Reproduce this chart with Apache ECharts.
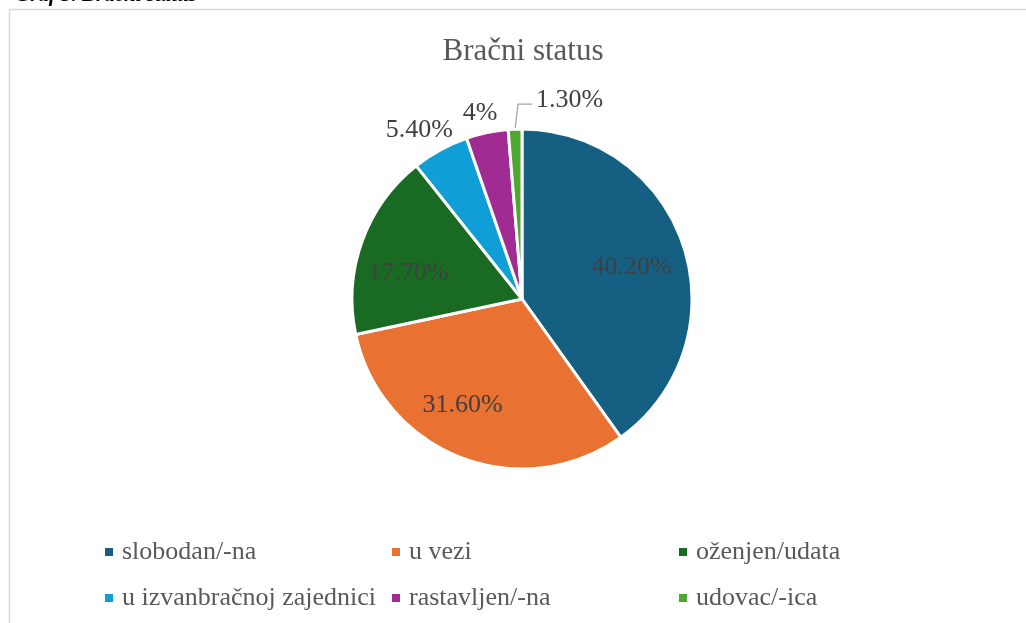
<!DOCTYPE html>
<html>
<head>
<meta charset="utf-8">
<script src="https://cdn.jsdelivr.net/npm/echarts@6/dist/echarts.min.js"></script>
<style>
html,body{margin:0;padding:0;background:#fff;}
#chart{width:1026px;height:623px;}
</style>
</head>
<body>
<div id="chart"></div>
<script>
const categories = ['slobodan/-na', 'u vezi', 'oženjen/udata', 'u izvanbračnoj zajednici', 'rastavljen/-na', 'udovac/-ica'];
const values = [40.2, 31.6, 17.7, 5.4, 4, 1.3];
const valueLabels = ['40.20%', '31.60%', '17.70%', '5.40%', '4%', '1.30%'];
const colors = ['#156082', '#E97132', '#196B24', '#0F9ED5', '#A02B93', '#4EA72E'];
const titleText = 'Bračni status';
const captionText = 'Graf 5. Bračni status';

const FONT = "'Liberation Serif', 'Times New Roman', serif";
const CX = 522, CY = 299, R = 170;

const chart = echarts.init(document.getElementById('chart'), null, {renderer: 'canvas'});

function midAngle(i) {
  const total = values.reduce((a, b) => a + b, 0);
  let before = 0;
  for (let k = 0; k < i; k++) before += values[k];
  return -Math.PI / 2 + (before + values[i] / 2) / total * 2 * Math.PI;
}

const data = categories.map((c, i) => ({
  name: c,
  value: values[i],
  itemStyle: {color: colors[i]},
  label: {position: i < 3 ? 'inside' : 'outside'},
  labelLine: {show: i === 5, length: 10, length2: 10, lineStyle: {color: '#a6a6a6', width: 1.3}}
}));

function legendRow(names, top) {
  return {
    left: 103,
    top: top,
    width: 880,
    padding: 0,
    itemWidth: 10,
    itemHeight: 10,
    itemGap: 13,
    icon: 'rect',
    data: names,
    formatter: '{a|{name}}',
    textStyle: {
      fontFamily: FONT, fontSize: 26, color: '#595959',
      rich: {a: {fontFamily: FONT, fontSize: 26, color: '#595959', width: 255, lineHeight: 38, padding: [0, 0, 0, 3]}}
    }
  };
}

chart.setOption({
  animation: false,
  backgroundColor: '#fff',
  title: {
    text: titleText,
    left: 518,
    top: 31,
    textAlign: 'center',
    textStyle: {fontFamily: FONT, fontSize: 31, fontWeight: 'normal', color: '#595959'}
  },
  legend: [legendRow(categories.slice(0, 3), 539), legendRow(categories.slice(3), 585)],
  graphic: [
    {type: 'line', shape: {x1: 10, y1: 9.5, x2: 1026, y2: 9.5}, style: {stroke: '#d9d9d9', lineWidth: 1.5}, silent: true},
    {type: 'line', shape: {x1: 9.5, y1: 9, x2: 9.5, y2: 623}, style: {stroke: '#d9d9d9', lineWidth: 1.5}, silent: true},
    {type: 'text', left: 15, top: -14.5, style: {text: captionText, font: "bold italic 21px 'Liberation Serif', serif", fill: '#000'}, silent: true}
  ],
  series: [{
    type: 'pie',
    center: [CX, CY],
    radius: R,
    startAngle: 90,
    clockwise: true,
    avoidLabelOverlap: false,
    itemStyle: {borderColor: '#fff', borderWidth: 3},
    label: {
      show: true,
      fontFamily: FONT,
      fontSize: 26,
      color: '#404040',
      formatter: p => valueLabels[p.dataIndex]
    },
    emphasis: {disabled: true},
    labelLayout: function (p) {
      const nudge = [[-2, 4], [-17, -3], [-3, 14], [-7, 6], [-1, 9], [0, 0]];
      const i = p.dataIndex;
      const a = midAngle(i);
      const c = Math.cos(a), s = Math.sin(a);
      const n = nudge[i];
      if (i < 3) {
        return {x: CX + c * R * 0.69 + n[0], y: CY + s * R * 0.69 + n[1], align: 'center', verticalAlign: 'middle'};
      }
      if (i < 5) {
        return {x: CX + c * (R + 29) + n[0], y: CY + s * (R + 29) + n[1], align: 'center', verticalAlign: 'middle'};
      }
      const p0 = [CX + c * R, CY + s * R];
      const p1 = [p0[0] + 3, p0[1] - 25];
      const p2 = [p1[0] + 14, p1[1]];
      return {x: p2[0] + 4, y: p2[1] - 4, align: 'left', verticalAlign: 'middle', labelLinePoints: [p0, p1, p2]};
    },
    data: data
  }]
});
</script>
</body>
</html>
